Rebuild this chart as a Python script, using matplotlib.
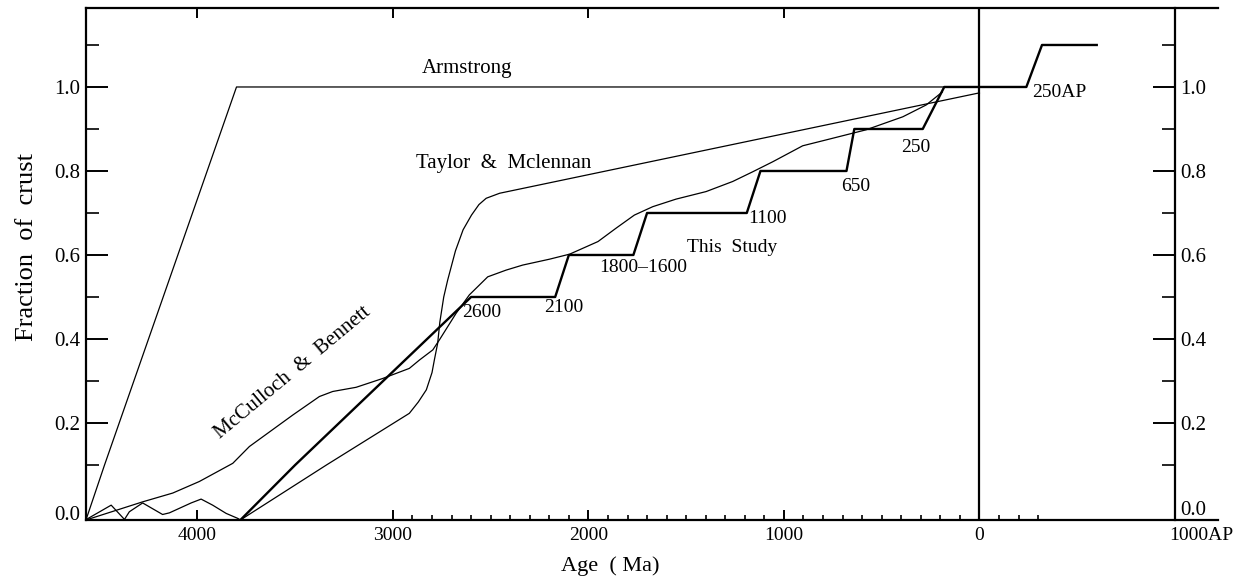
import matplotlib.pyplot as plt
from matplotlib.ticker import FixedLocator
from matplotlib.transforms import ScaledTranslation
import numpy as np

# crustal growth curves, age in Ma (negative = after present)
armstrong_age = [4570, 4475, 3800, 0]
armstrong_frac = [0.0, 0.1, 1.0, 1.0]

taylor_age = [4573, 4441, 4373, 4348, 4280, 4178, 4143, 4032, 3981, 3922, 3853, 3794, 3780,
              3340, 2916, 2870, 2829, 2800, 2788, 2771, 2760, 2740, 2720, 2680, 2641, 2598,
              2560, 2523, 2454, 0]
taylor_frac = [0.0, 0.027, 0.001, 0.015, 0.031, 0.010, 0.013, 0.031, 0.038, 0.027, 0.012, 0.003, 0.0,
               0.1, 0.223, 0.25, 0.279, 0.32, 0.35, 0.39, 0.44, 0.50, 0.54, 0.61, 0.66, 0.695,
               0.72, 0.735, 0.747, 0.986]

mcculloch_age = [4570, 4280, 4126, 3990, 3819, 3734, 3512, 3376, 3308, 3188, 3052, 2916, 2864,
                 2796, 2762, 2677, 2609, 2515, 2421, 2336, 2199, 2096, 1951, 1858, 1765, 1671,
                 1552, 1398, 1262, 1160, 1057, 904, 784, 648, 580, 392, 273, 190]
mcculloch_frac = [0.0, 0.033, 0.049, 0.070, 0.104, 0.144, 0.219, 0.263, 0.275, 0.285, 0.306, 0.330, 0.35,
                  0.374, 0.398, 0.461, 0.505, 0.548, 0.564, 0.576, 0.590, 0.602, 0.632, 0.664, 0.695, 0.715,
                  0.733, 0.751, 0.775, 0.798, 0.822, 0.860, 0.874, 0.890, 0.898, 0.929, 0.957, 0.988]

study_age = [3780, 3500, 2600, 2170, 2100, 1770, 1700, 1190, 1120, 680, 640, 290, 180, -240, -320, -600]
study_frac = [0.0, 0.1, 0.5, 0.5, 0.6, 0.6, 0.7, 0.7, 0.8, 0.8, 0.9, 0.9, 1.0, 1.0, 1.1, 1.1]

# step annotations (age, fraction, text)
step_labels = [(2645, 0.462, '2600'), (2225, 0.474, '2100'), (1944, 0.571, '1800\u20131600'),
               (1182, 0.688, '1100'), (706, 0.762, '650'), (399, 0.857, '250'), (-271, 0.986, '250AP')]

x_major = [4000, 3000, 2000, 1000, 0, -1000]
x_major_labels = ['4000', '3000', '2000', '1000', '0', '1000AP']
x_minor = list(range(2900, 0, -100)) + [-100, -200, -300]
y_major = [0.0, 0.2, 0.4, 0.6, 0.8, 1.0]
y_minor = [0.1, 0.3, 0.5, 0.7, 0.9, 1.1]

# the scanned y axis is stretched between 0.0 and 0.1
_v = [-1.0, 0.0, 0.1, 3.0]
_u = [-550.0, 0.0, 55.0, 55.0 + 2.9 * 420.0]


def fwd(v):
    return np.interp(v, _v, _u)


def inv(u):
    return np.interp(u, _u, _v)


def plot_growth():
    plt.rcParams['font.family'] = ['Liberation Serif', 'DejaVu Serif']

    fig = plt.figure(figsize=(12.35, 5.81), dpi=100)
    ax = fig.add_axes([0.0696, 0.105, 0.9166, 0.8812])

    ax.set_yscale('function', functions=(fwd, inv))
    ax.set_xlim(4570, -1220)
    ax.set_ylim(0, 1.188)

    ax.plot(armstrong_age, armstrong_frac, color='k', lw=0.9)
    ax.plot(taylor_age, taylor_frac, color='k', lw=0.9)
    ax.plot(mcculloch_age, mcculloch_frac, color='k', lw=0.9)
    ax.plot(study_age, study_frac, color='k', lw=1.7)
    ax.axvline(0, color='k', lw=1.6)

    ax.text(2620, 1.045, 'Armstrong', fontsize=15, ha='center', va='center')
    ax.text(2435, 0.819, 'Taylor  &  Mclennan', fontsize=15, ha='center', va='center')
    ax.text(1263, 0.619, 'This  Study', fontsize=14, ha='center', va='center')
    ax.text(3514, 0.319, 'McCulloch  &  Bennett', fontsize=15, ha='center', va='center',
            rotation=39.7, rotation_mode='anchor')
    for age, frac, txt in step_labels:
        ax.text(age, frac, txt, fontsize=14, ha='left', va='center')

    for side in ['left', 'right', 'top', 'bottom']:
        ax.spines[side].set_linewidth(1.6)
    ax.spines['right'].set_position(('data', -1000))

    ax.xaxis.set_major_locator(FixedLocator(x_major))
    ax.xaxis.set_minor_locator(FixedLocator(x_minor))
    ax.set_xticklabels(x_major_labels)
    ax.tick_params(axis='x', which='major', direction='in', length=7, width=1.4,
                   top=True, bottom=True, labelsize=14, pad=5)
    ax.tick_params(axis='x', which='minor', direction='in', length=3.8, width=1.2,
                   top=False, bottom=True)

    ax.yaxis.set_major_locator(FixedLocator(y_major))
    ax.yaxis.set_minor_locator(FixedLocator(y_minor))
    ax.set_yticklabels(['%.1f' % v for v in y_major])
    ax.tick_params(axis='y', which='major', direction='in', length=16, width=1.4,
                   left=True, right=True, labelleft=True, labelright=True, labelsize=15, pad=4)
    ax.tick_params(axis='y', which='minor', direction='in', length=9.5, width=1.2,
                   left=True, right=True)

    # 1000AP sits just right of the right axis, 0.0 sits just above the base line
    ap_label = ax.xaxis.get_major_ticks()[-1].label1
    ap_label.set_horizontalalignment('left')
    ap_label.set_transform(ap_label.get_transform() + ScaledTranslation(-0.06, 0, fig.dpi_scale_trans))
    zero_tick = ax.yaxis.get_major_ticks()[0]
    zero_tick.label1.set_verticalalignment('baseline')
    zero_tick.label2.set_verticalalignment('bottom')

    ax.set_xlabel('Age  ( Ma)', fontsize=16)
    ax.xaxis.set_label_coords(0.463, -0.07)
    ax.set_ylabel('Fraction  of  crust', fontsize=19)
    ax.yaxis.set_label_coords(-0.042, 0.533)

    plt.savefig('out.png', dpi=100)


if __name__ == '__main__':
    plot_growth()
